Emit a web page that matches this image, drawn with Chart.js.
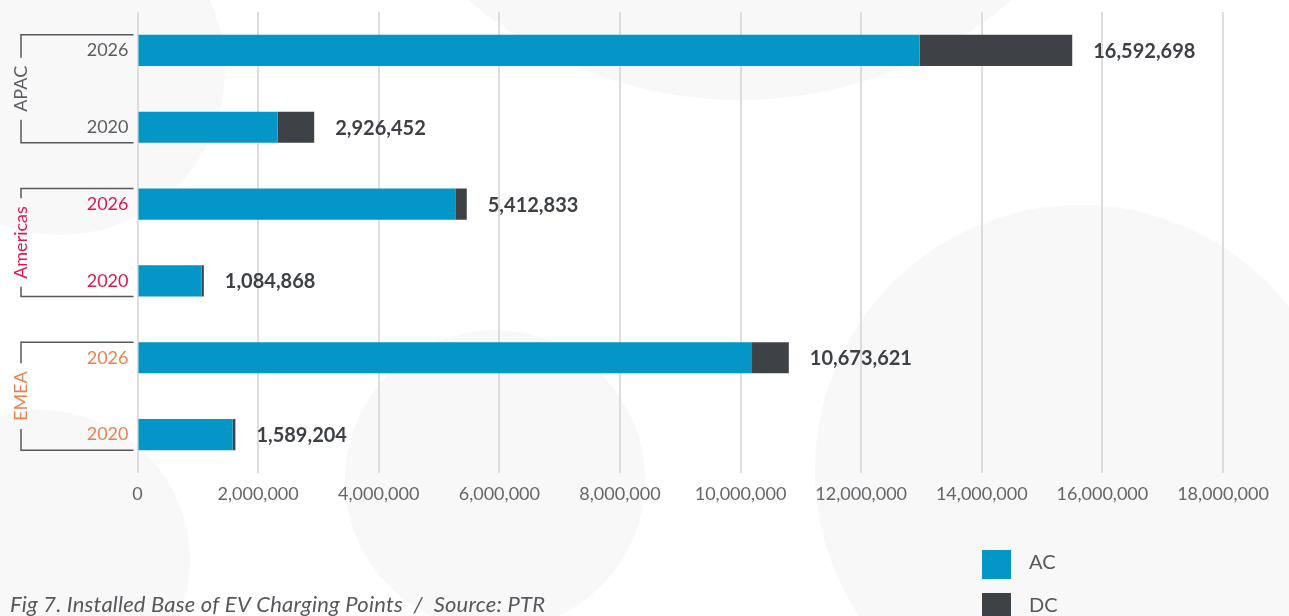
<!DOCTYPE html>
<html>
<head>
<meta charset="utf-8">
<script src="https://cdn.jsdelivr.net/npm/chart.js@4.4.1/dist/chart.umd.min.js"></script>
<style>
  html, body { margin: 0; padding: 0; background: #ffffff; }
  #wrap { width: 1289px; height: 616px; position: relative; }
</style>
</head>
<body>
<div id="wrap"><canvas id="evChart" width="1289" height="616"></canvas></div>
<script>
// ---- data ----
const categories = ['2026', '2020', '2026', '2020', '2026', '2020'];
const regions = ['APAC', 'Americas', 'EMEA'];
const regionColors = ['#5a5d61', '#e0174d', '#ec8150'];
const acValues = [12970000, 2325000, 5280000, 1065000, 10190000, 1578000];
const dcValues = [2530000, 605000, 180000, 35000, 610000, 45000];
const totalLabels = ['16,592,698', '2,926,452', '5,412,833', '1,084,868', '10,673,621', '1,589,204'];
const xMax = 18000000;
const xStep = 2000000;
const caption = 'Fig 7. Installed Base of EV Charging Points  /  Source: PTR';

const AC_COLOR = '#0396c6';
const DC_COLOR = '#3e4247';
const FONT = 'Lato, "Open Sans", sans-serif';

const tickColors = categories.map((c, i) => regionColors[Math.floor(i / 2)]);

// faint round shapes in the background
const bgBlobs = {
  id: 'bgBlobs',
  beforeDraw(chart){
    const ctx = chart.ctx;
    ctx.save();
    ctx.fillStyle = '#f8f8f8';
    const blobs = [
      [60, 70, 165], [740, -320, 420], [495, 480, 150],
      [1080, 470, 265], [40, 560, 150]
    ];
    blobs.forEach(b => {
      ctx.beginPath();
      ctx.arc(b[0], b[1], b[2], 0, Math.PI * 2);
      ctx.fill();
    });
    ctx.restore();
  }
};

// totals, group brackets, legend and caption
const extras = {
  id: 'extras',
  afterDraw(chart){
    const ctx = chart.ctx;
    const x = chart.scales.x, y = chart.scales.y;
    const meta = chart.getDatasetMeta(1);
    ctx.save();

    // totals after each bar
    ctx.font = 'bold 20px ' + FONT;
    ctx.fillStyle = '#3d4045';
    ctx.textBaseline = 'middle';
    ctx.textAlign = 'left';
    meta.data.forEach((bar, i) => {
      ctx.fillText(totalLabels[i], bar.x + 21, bar.y + 1);
    });

    // region brackets
    const half = meta.data[0].height / 2;
    const bx = 21, bxEnd = x.left - 4;
    ctx.font = '18px ' + FONT;
    regions.forEach((name, g) => {
      const top = y.getPixelForValue(g * 2) - half;
      const bottom = y.getPixelForValue(g * 2 + 1) + half;
      const mid = (top + bottom) / 2;
      const tw = ctx.measureText(name).width;
      const gap = tw / 2 + 8;
      ctx.strokeStyle = '#55585c';
      ctx.lineWidth = 1.5;
      ctx.beginPath();
      ctx.moveTo(bxEnd, top); ctx.lineTo(bx, top); ctx.lineTo(bx, mid - gap);
      ctx.moveTo(bx, mid + gap); ctx.lineTo(bx, bottom); ctx.lineTo(bxEnd, bottom);
      ctx.stroke();
      ctx.save();
      ctx.translate(bx, mid);
      ctx.rotate(-Math.PI / 2);
      ctx.fillStyle = regionColors[g];
      ctx.textAlign = 'center';
      ctx.textBaseline = 'middle';
      ctx.fillText(name, 0, 0);
      ctx.restore();
    });

    // legend
    const legend = [['AC', AC_COLOR, 550], ['DC', DC_COLOR, 593]];
    ctx.font = '20px ' + FONT;
    ctx.textAlign = 'left';
    ctx.textBaseline = 'middle';
    legend.forEach(l => {
      ctx.fillStyle = l[1];
      ctx.fillRect(982, l[2], 29, 29);
      ctx.fillStyle = '#55585c';
      ctx.fillText(l[0], 1029, l[2] + 13);
    });

    // caption
    ctx.font = 'italic 22px ' + FONT;
    ctx.letterSpacing = '0.2px';
    ctx.fillStyle = '#55585c';
    ctx.textBaseline = 'alphabetic';
    ctx.fillText(caption, 10, 612);

    ctx.restore();
  }
};

new Chart(document.getElementById('evChart'), {
  type: 'bar',
  data: {
    labels: categories,
    datasets: [
      { label: 'AC', data: acValues, backgroundColor: AC_COLOR, borderWidth: 0,
        barPercentage: 0.405, categoryPercentage: 1 },
      { label: 'DC', data: dcValues, backgroundColor: DC_COLOR, borderWidth: 0,
        barPercentage: 0.405, categoryPercentage: 1 }
    ]
  },
  options: {
    indexAxis: 'y',
    responsive: false,
    animation: false,
    devicePixelRatio: 1,
    layout: { padding: { top: 12, right: 66, left: 0, bottom: 0 } },
    plugins: { legend: { display: false }, tooltip: { enabled: false } },
    scales: {
      x: {
        stacked: true,
        min: 0,
        max: xMax,
        ticks: {
          stepSize: xStep,
          color: '#63666a',
          padding: 10,
          font: { family: FONT, size: 18 },
          callback: v => v.toLocaleString('en-US')
        },
        grid: { color: '#dddddd', lineWidth: 2, drawTicks: false },
        border: { display: false },
        afterFit(scale){ scale.height = 143; }
      },
      y: {
        stacked: true,
        ticks: {
          color: tickColors,
          padding: 9,
          font: { family: FONT, size: 18 }
        },
        grid: { display: false, drawTicks: false },
        border: { display: false },
        afterFit(scale){
          scale.width = 137.5;
          scale.paddingTop = 0;
          scale.paddingBottom = 0;
        }
      }
    }
  },
  plugins: [bgBlobs, extras]
});
</script>
</body>
</html>
